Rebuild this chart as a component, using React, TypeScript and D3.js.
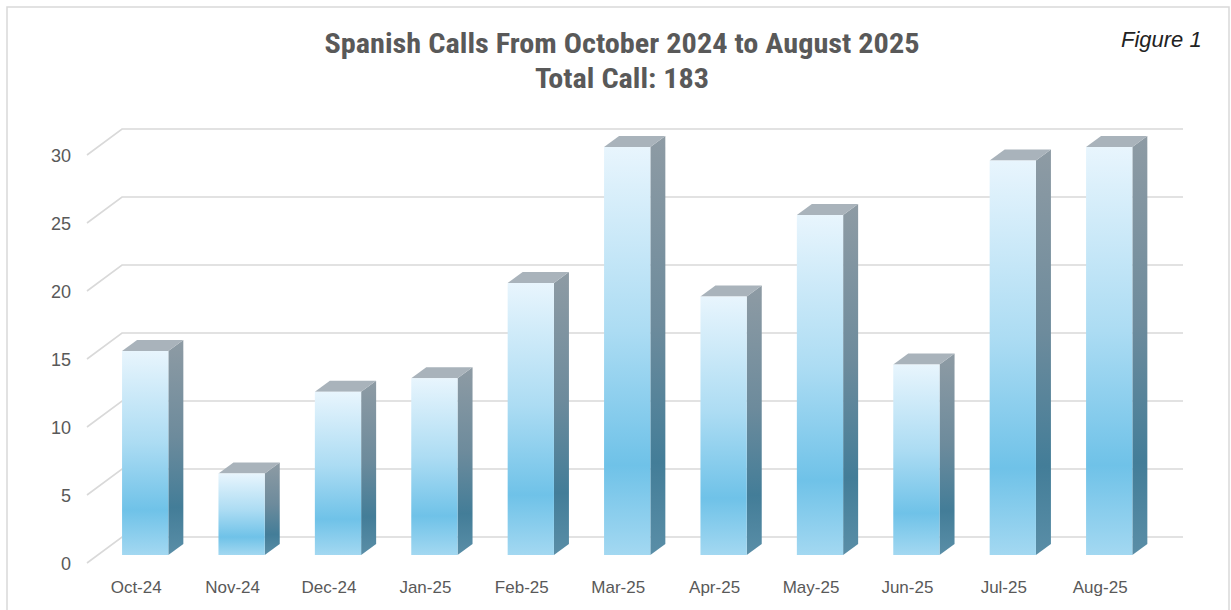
import React from "react";
import * as d3 from "d3";

const categories = ["Oct-24","Nov-24","Dec-24","Jan-25","Feb-25","Mar-25","Apr-25","May-25","Jun-25","Jul-25","Aug-25"];
const calls = [15, 6, 12, 13, 20, 30, 19, 25, 14, 29, 30];
const yTicks = [0, 5, 10, 15, 20, 25, 30];
const titleLine1 = "Spanish Calls From October 2024 to August 2025";
const titleLine2 = "Total Call: 183";
const figureLabel = "Figure 1";

const W = 1231, H = 610;
// wall geometry
const wallFrontX = 87, wallBackX = 122, wallRightX = 1183;
const depthDy = -26; // back wall offset relative to front of floor
const barDx = 15, barDy = -11;

export default function App() {
  const x = d3.scaleBand<string>().domain(categories).range([97, 1157.4]).paddingInner(0.52).paddingOuter(0.26);
  // y for front edge of floor
  const yWall = d3.scaleLinear().domain([0, 30]).range([563, 155]);
  // y for bar front face
  const yBar = d3.scaleLinear().domain([0, 30]).range([555, 147]);
  const bw = x.bandwidth();
  const grey = "#595959";

  return (
    <svg width={W} height={H} style={{ position: "absolute", left: 0, top: 0, background: "#fff" }}
      fontFamily="'Liberation Sans', Arial, sans-serif">
      <defs>
        <linearGradient id="front" x1="0" y1="0" x2="0" y2="1">
          <stop offset="0" stopColor="#e8f5fd" />
          <stop offset="0.45" stopColor="#acdcf3" />
          <stop offset="0.78" stopColor="#6fc2e8" />
          <stop offset="1" stopColor="#a3d8f1" />
        </linearGradient>
        <linearGradient id="side" x1="0" y1="0" x2="0" y2="1">
          <stop offset="0" stopColor="#8e9ba4" />
          <stop offset="0.45" stopColor="#6d8b9c" />
          <stop offset="0.78" stopColor="#437d98" />
          <stop offset="1" stopColor="#5a8ea7" />
        </linearGradient>
      </defs>
      <rect x={7} y={7} width={1222} height={620} fill="#fff" stroke="#d9d9d9" strokeWidth={1.5} />

      {/* gridlines on back wall */}
      <g stroke="#d9d9d9" strokeWidth={1.6} fill="none">
        {yTicks.map(t => (
          <path key={t} d={`M${wallFrontX},${yWall(t)} L${wallBackX},${yWall(t) + depthDy} L${wallRightX},${yWall(t) + depthDy}`} />
        ))}
      </g>

      {/* y tick labels */}
      <g fill={grey} fontSize={18} textAnchor="end">
        {yTicks.map(t => (
          <text key={t} x={71} y={yWall(t) + 1} dy="0.35em">{t}</text>
        ))}
      </g>

      {/* bars */}
      {categories.map((c, i) => {
        const x0 = x(c)!;
        const yt = yBar(calls[i]);
        const yb = yBar(0);
        return (
          <g key={c}>
            <path d={`M${x0 + bw},${yt} L${x0 + bw + barDx},${yt + barDy} L${x0 + bw + barDx},${yb + barDy} L${x0 + bw},${yb} Z`} fill="url(#side)" />
            <path d={`M${x0},${yt} L${x0 + barDx},${yt + barDy} L${x0 + bw + barDx},${yt + barDy} L${x0 + bw},${yt} Z`} fill="#a9b3bb" />
            <rect x={x0} y={yt} width={bw} height={yb - yt} fill="url(#front)" />
          </g>
        );
      })}

      {/* x labels */}
      <g fill={grey} fontSize={17} textAnchor="middle">
        {categories.map(c => (
          <text key={c} x={x(c)! + bw / 2 - 9} y={593}>{c}</text>
        ))}
      </g>

      {/* titles */}
      <g fill={grey} fontWeight="bold" fontSize={27} textAnchor="middle"
        fontFamily="'Liberation Sans Narrow', 'Roboto Condensed', 'Liberation Sans', sans-serif">
        <text x={622} y={53} textLength={595} lengthAdjust="spacingAndGlyphs">{titleLine1}</text>
        <text x={622} y={88} textLength={174} lengthAdjust="spacingAndGlyphs">{titleLine2}</text>
      </g>
      <text x={1121} y={47} fontSize={22} fontStyle="italic" fill="#222"
        fontFamily="'Liberation Sans', Arial, sans-serif">{figureLabel}</text>
    </svg>
  );
}
